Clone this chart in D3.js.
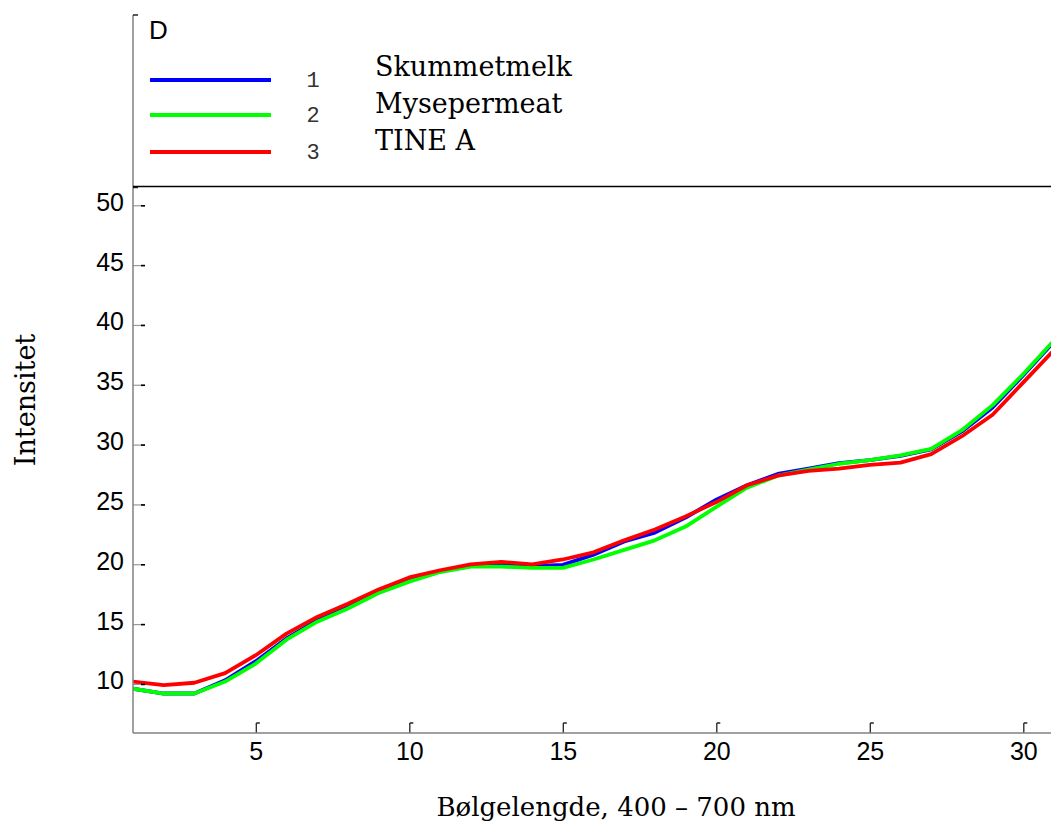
<!DOCTYPE html>
<html>
<head>
<meta charset="utf-8">
<script src="https://cdn.jsdelivr.net/npm/d3@7"></script>
<style>
  body { margin: 0; background: #fff; }
  svg { display: block; }
  .tick text { font-family: "Liberation Sans", Arial, sans-serif; font-size: 25px; fill: #000; }
</style>
</head>
<body>
<svg width="1051" height="827"></svg>
<script>
// wavelength index 1..31 (400 - 700 nm)
const xs = d3.range(1, 32);
const skummetmelk = [9.6, 9.2, 9.2, 10.3, 11.9, 13.8, 15.3, 16.4, 17.65, 18.6, 19.4, 19.85, 19.95, 19.85, 19.95, 20.8, 21.9, 22.65, 23.9, 25.4, 26.6, 27.55, 28.0, 28.45, 28.7, 29.05, 29.6, 31.1, 33.1, 35.8, 38.6];
const mysepermeat = [9.6, 9.2, 9.2, 10.2, 11.7, 13.7, 15.2, 16.3, 17.6, 18.55, 19.35, 19.8, 19.8, 19.7, 19.7, 20.4, 21.2, 22.0, 23.15, 24.8, 26.4, 27.4, 27.9, 28.4, 28.7, 29.1, 29.65, 31.2, 33.3, 35.9, 38.7];
const tineA = [10.2, 9.9, 10.1, 10.9, 12.4, 14.2, 15.6, 16.7, 17.9, 18.9, 19.5, 20.0, 20.2, 20.0, 20.4, 21.0, 22.0, 22.9, 24.0, 25.2, 26.6, 27.4, 27.8, 28.0, 28.3, 28.5, 29.2, 30.7, 32.5, 35.2, 37.9];

const seriesNames = ["Skummetmelk", "Mysepermeat", "TINE A"];
const seriesNums = ["1", "2", "3"];
const seriesColors = ["#0000ff", "#00ff00", "#ff0000"];
const seriesValues = [skummetmelk, mysepermeat, tineA];

const xTicks = [5, 10, 15, 20, 25, 30];
const yTicks = [10, 15, 20, 25, 30, 35, 40, 45, 50];

const svg = d3.select("svg");

const plot = {left: 133, right: 1051, top: 15, bottom: 733};

const x = d3.scaleLinear().domain([1, 31]).range([133, 1054]);
const y = d3.scaleLinear().domain([5.9, 65.9]).range([plot.bottom, plot.top]);

// lines (blue, green, red - red on top)
const line = d3.line()
    .x((d, i) => x(xs[i]))
    .y(d => y(d));

svg.append("clipPath").attr("id", "clip")
  .append("rect")
    .attr("x", plot.left).attr("y", 188)
    .attr("width", plot.right - plot.left).attr("height", plot.bottom - 188);

svg.append("g").attr("clip-path", "url(#clip)")
  .selectAll("path")
  .data(seriesValues)
  .enter()
  .append("path")
    .attr("d", line)
    .attr("fill", "none")
    .attr("stroke", (d, i) => seriesColors[i])
    .attr("stroke-width", 3.8)
    .attr("stroke-linejoin", "round");

// y axis with inward ticks
const yAxis = svg.append("g")
    .attr("transform", `translate(${plot.left},0)`)
    .call(d3.axisLeft(y).tickValues(yTicks).tickSize(-12).tickPadding(9).tickFormat(d3.format("d")));
yAxis.select(".domain").remove();
yAxis.selectAll(".tick line").attr("stroke", "#999").attr("stroke-width", 1.2);
yAxis.selectAll(".tick").append("line")
    .attr("x1", 8).attr("x2", 12).attr("y1", 0).attr("y2", 0)
    .attr("stroke", "#000").attr("stroke-width", 1.6);
yAxis.selectAll(".tick text").attr("dy", "0.2em");

// x axis with inward ticks
const xAxis = svg.append("g")
    .attr("transform", `translate(0,${plot.bottom})`)
    .call(d3.axisBottom(x).tickValues(xTicks).tickSize(-10).tickPadding(9).tickFormat(d3.format("d")));
xAxis.select(".domain").remove();
xAxis.selectAll(".tick line").attr("stroke", "#222").attr("stroke-width", 1.3);
xAxis.selectAll(".tick").append("line")
    .attr("x1", 0).attr("x2", 3.5).attr("y1", -10).attr("y2", -10)
    .attr("stroke", "#222").attr("stroke-width", 1.5);

// axis lines
svg.append("line")
    .attr("x1", plot.left).attr("x2", plot.left)
    .attr("y1", plot.top).attr("y2", plot.bottom)
    .attr("stroke", "#808080").attr("stroke-width", 1.5);
svg.append("line")
    .attr("x1", plot.left).attr("x2", plot.right)
    .attr("y1", plot.bottom).attr("y2", plot.bottom)
    .attr("stroke", "#808080").attr("stroke-width", 1.5);
svg.append("line")
    .attr("x1", plot.left).attr("x2", plot.left + 5)
    .attr("y1", plot.top).attr("y2", plot.top)
    .attr("stroke", "#222").attr("stroke-width", 1.5);
svg.append("line")
    .attr("x1", plot.left).attr("x2", plot.left + 5)
    .attr("y1", 187.5).attr("y2", 187.5)
    .attr("stroke", "#222").attr("stroke-width", 1.5);

// legend box bottom edge
svg.append("line")
    .attr("x1", plot.left).attr("x2", plot.right)
    .attr("y1", 186.5).attr("y2", 186.5)
    .attr("stroke", "#000").attr("stroke-width", 1.3);

// legend
svg.append("text")
    .attr("x", 149).attr("y", 39)
    .style("font-family", "Liberation Sans, Arial, sans-serif")
    .style("font-size", "26px")
    .text("D");

const legY = [80, 115, 152];
const leg = svg.append("g");
leg.selectAll(".leg-line")
  .data(seriesNames)
  .enter()
  .append("line")
    .attr("x1", 150).attr("x2", 271)
    .attr("y1", (d, i) => legY[i]).attr("y2", (d, i) => legY[i])
    .attr("stroke", (d, i) => seriesColors[i])
    .attr("stroke-width", 3.8);
leg.selectAll(".leg-num")
  .data(seriesNums)
  .enter()
  .append("text")
    .attr("x", 313).attr("y", (d, i) => legY[i] + 7)
    .attr("text-anchor", "middle")
    .style("font-family", "Liberation Mono, monospace")
    .style("font-size", "22px")
    .style("fill", "#333")
    .text(d => d);
leg.selectAll(".leg-name")
  .data(seriesNames)
  .enter()
  .append("text")
    .attr("x", 375).attr("y", (d, i) => [76, 113, 150][i])
    .style("font-family", "DejaVu Serif, serif")
    .style("font-size", "27px")
    .text(d => d);

// axis titles
svg.append("text")
    .attr("transform", "translate(35,400) rotate(-90)")
    .attr("text-anchor", "middle")
    .style("font-family", "DejaVu Serif, serif")
    .style("font-size", "27px")
    .text("Intensitet");

svg.append("text")
    .attr("x", 616).attr("y", 816)
    .attr("text-anchor", "middle")
    .style("font-family", "DejaVu Serif, serif")
    .style("font-size", "26px")
    .text("Bølgelengde, 400 – 700 nm");
</script>
</body>
</html>
